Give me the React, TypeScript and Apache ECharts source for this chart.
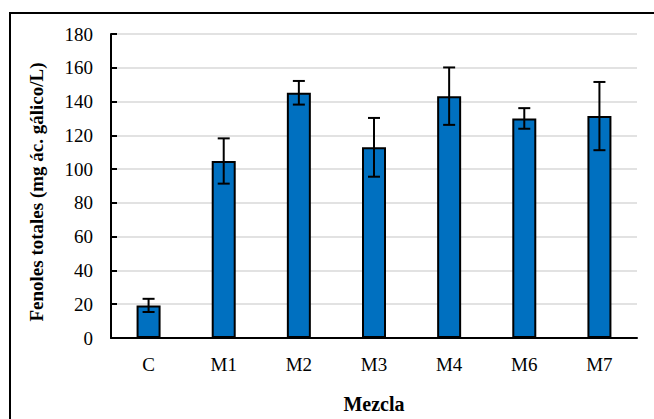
import React, { useEffect, useRef } from "react";
import * as echarts from "echarts";

const categories = ["C", "M1", "M2", "M3", "M4", "M6", "M7"];
const means = [19.3, 104.8, 145.2, 112.9, 143.2, 130.0, 131.4];
const errors = [3.9, 13.4, 7.0, 17.4, 17.0, 6.1, 20.2];
const yTitle = "Fenoles totales (mg ác. gálico/L)";
const xTitle = "Mezcla";

const FONT = "'Liberation Serif', 'Times New Roman', serif";

export default function App() {
  const ref = useRef<HTMLDivElement>(null);
  useEffect(() => {
    if (!ref.current) return;
    const chart = echarts.init(ref.current, null, { renderer: "svg" });
    const errData = means.map((m, i) => [i, m - errors[i], m + errors[i]]);
    chart.setOption({
      animation: false,
      backgroundColor: "#ffffff",
      grid: { left: 111, top: 34, right: 17, bottom: 81, containLabel: false },
      graphic: [
        {
          type: "rect",
          shape: { x: 10, y: 13, width: 800, height: 600 },
          style: { fill: "none", stroke: "#000", lineWidth: 2 },
          silent: true,
          z: 0,
        },
      ],
      xAxis: {
        type: "category",
        data: categories,
        name: xTitle,
        nameLocation: "middle",
        nameGap: 56,
        nameTextStyle: { fontFamily: FONT, fontSize: 20, fontWeight: "bold", color: "#000" },
        axisLine: { lineStyle: { color: "#000", width: 2 } },
        axisTick: { inside: true, length: 6, lineStyle: { color: "#000", width: 2 } },
        axisLabel: { fontFamily: FONT, fontSize: 19, color: "#000", margin: 17 },
        splitLine: { show: false },
      },
      yAxis: {
        type: "value",
        min: 0,
        max: 180,
        interval: 20,
        name: yTitle,
        nameLocation: "middle",
        nameGap: 65,
        nameTextStyle: { fontFamily: FONT, fontSize: 19, fontWeight: "bold", color: "#000", padding: [0, 12, 0, 0] },
        axisLine: { show: true, lineStyle: { color: "#000", width: 2 } },
        axisTick: { show: true, inside: true, length: 6, lineStyle: { color: "#000", width: 2 } },
        axisLabel: { fontFamily: FONT, fontSize: 19, color: "#000", margin: 18 },
        splitLine: { show: true, lineStyle: { color: "#d9d9d9", width: 1.5 } },
      },
      series: [
        {
          type: "bar",
          data: means,
          barWidth: 24,
          itemStyle: { color: "#0070C0", borderColor: "#000", borderWidth: 2 },
          z: 2,
        },
        {
          type: "custom",
          data: errData,
          z: 3,
          renderItem: (params: any, api: any) => {
            const x = api.coord([api.value(0), 0])[0];
            const lo = api.coord([api.value(0), api.value(1)])[1];
            const hi = api.coord([api.value(0), api.value(2)])[1];
            const hw = 6;
            const style = { stroke: "#000", lineWidth: 2 };
            return {
              type: "group",
              children: [
                { type: "line", shape: { x1: x, y1: lo, x2: x, y2: hi }, style },
                { type: "line", shape: { x1: x - hw, y1: hi, x2: x + hw, y2: hi }, style },
                { type: "line", shape: { x1: x - hw, y1: lo, x2: x + hw, y2: lo }, style },
              ],
            };
          },
        },
      ],
    });
    return () => chart.dispose();
  }, []);
  return <div ref={ref} style={{ width: 654, height: 419, position: "absolute", left: 0, top: 0 }} />;
}
